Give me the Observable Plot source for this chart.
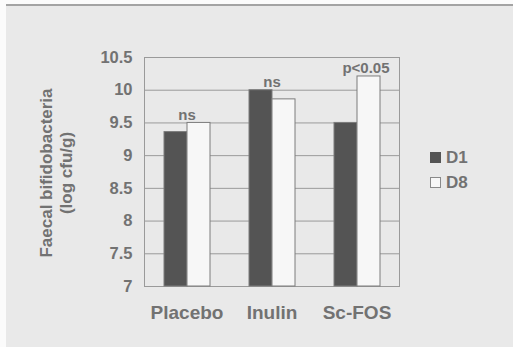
<!DOCTYPE html>
<html>
<head>
<meta charset="utf-8">
<script src="https://cdn.jsdelivr.net/npm/d3@7"></script>
<script src="https://cdn.jsdelivr.net/npm/@observablehq/plot@0.6"></script>
<style>
  html, body { margin: 0; padding: 0; background: #fbfbfb; width: 513px; height: 347px; overflow: hidden; }
  #bg { position: absolute; left: 6px; top: 4px; width: 507px; height: 341px; background: #e9e9e9; border-top: 2px solid #a3a3a3; }
  #chart { position: absolute; left: 0; top: 0; }
  .txt { font-family: "Liberation Sans", Arial, sans-serif; font-weight: bold; color: #727272; }
  #ytitle { position: absolute; left: 57px; top: 173px; width: 260px; transform: translate(-50%, -50%) rotate(-90deg); text-align: center; font-size: 17px; line-height: 20px; }
  #legend { position: absolute; left: 430px; top: 145px; font-size: 17px; }
  .item { display: flex; align-items: center; height: 25px; }
  .sw { width: 11px; height: 11px; margin-right: 5px; box-sizing: border-box; }
</style>
</head>
<body>
<div id="bg"></div>
<div id="chart"></div>
<div id="ytitle" class="txt">Faecal bifidobacteria<br>(log cfu/g)</div>
<div id="legend" class="txt"></div>
<script>
const categories = ["Placebo", "Inulin", "Sc-FOS"];
const series = ["D1", "D8"];
const d1Values = [9.36, 10.0, 9.5];
const d8Values = [9.5, 9.86, 10.21];
const significance = ["ns", "ns", "p<0.05"];
const yTicks = [7, 7.5, 8, 8.5, 9, 9.5, 10, 10.5];
const seriesColors = ["#545454", "#f7f7f7"];

const bars = [];
categories.forEach((c, i) => {
  bars.push({category: c, series: "D1", value: d1Values[i]});
  bars.push({category: c, series: "D8", value: d8Values[i]});
});
const notes = categories.map((c, i) => ({
  category: c, label: significance[i], value: Math.max(d1Values[i], d8Values[i])
}));

const chart = Plot.plot({
  width: 513,
  height: 347,
  marginLeft: 143,
  marginRight: 113,
  marginTop: 57,
  marginBottom: 61,
  style: {background: "transparent", color: "#727272", fontFamily: "Liberation Sans, Arial, sans-serif", fontWeight: "bold"},
  fx: {domain: categories, padding: 0, label: null},
  x: {domain: series, axis: null, paddingInner: 0, paddingOuter: 0.82},
  y: {domain: [7, 10.5], ticks: yTicks, label: null},
  color: {domain: series, range: seriesColors},
  marks: [
    Plot.gridY(yTicks, {stroke: "#9a9a9a", strokeOpacity: 1, strokeWidth: 1}),
    Plot.frame({anchor: "left", facetAnchor: "left", stroke: "#9a9a9a"}),
    Plot.frame({anchor: "right", facetAnchor: "right", stroke: "#9a9a9a"}),
    Plot.frame({anchor: "bottom", stroke: "#9a9a9a"}),
    Plot.barY(bars, {fx: "category", x: "series", y1: 7, y2: "value", fill: "series", stroke: "#7c7c7c", strokeWidth: 1}),
    Plot.text(notes, {fx: "category", y: "value", text: "label", lineAnchor: "bottom", dy: -3, fontSize: 15, fill: "#727272"}),
    Plot.axisY(yTicks, {tickSize: 0, tickPadding: 12, fontSize: 16.5, label: null, tickFormat: (d) => String(d)}),
    Plot.axisFx({anchor: "bottom", tickSize: 0, tickPadding: 19, fontSize: 19, label: null})
  ]
});
document.getElementById("chart").appendChild(chart);

// shift the p<0.05 label slightly right as in the original
d3.select(chart).selectAll("text").filter(function() { return this.textContent === "p<0.05"; })
  .attr("transform", function() { const t = this.getAttribute("transform") || ""; return t + " translate(9,0)"; });

const legend = document.getElementById("legend");
series.forEach((s, i) => {
  const item = document.createElement("div");
  item.className = "item";
  const sw = document.createElement("div");
  sw.className = "sw";
  sw.style.background = seriesColors[i];
  sw.style.border = "1px solid " + (i === 0 ? seriesColors[i] : "#8a8a8a");
  item.appendChild(sw);
  item.appendChild(document.createTextNode(s));
  legend.appendChild(item);
});
</script>
</body>
</html>
